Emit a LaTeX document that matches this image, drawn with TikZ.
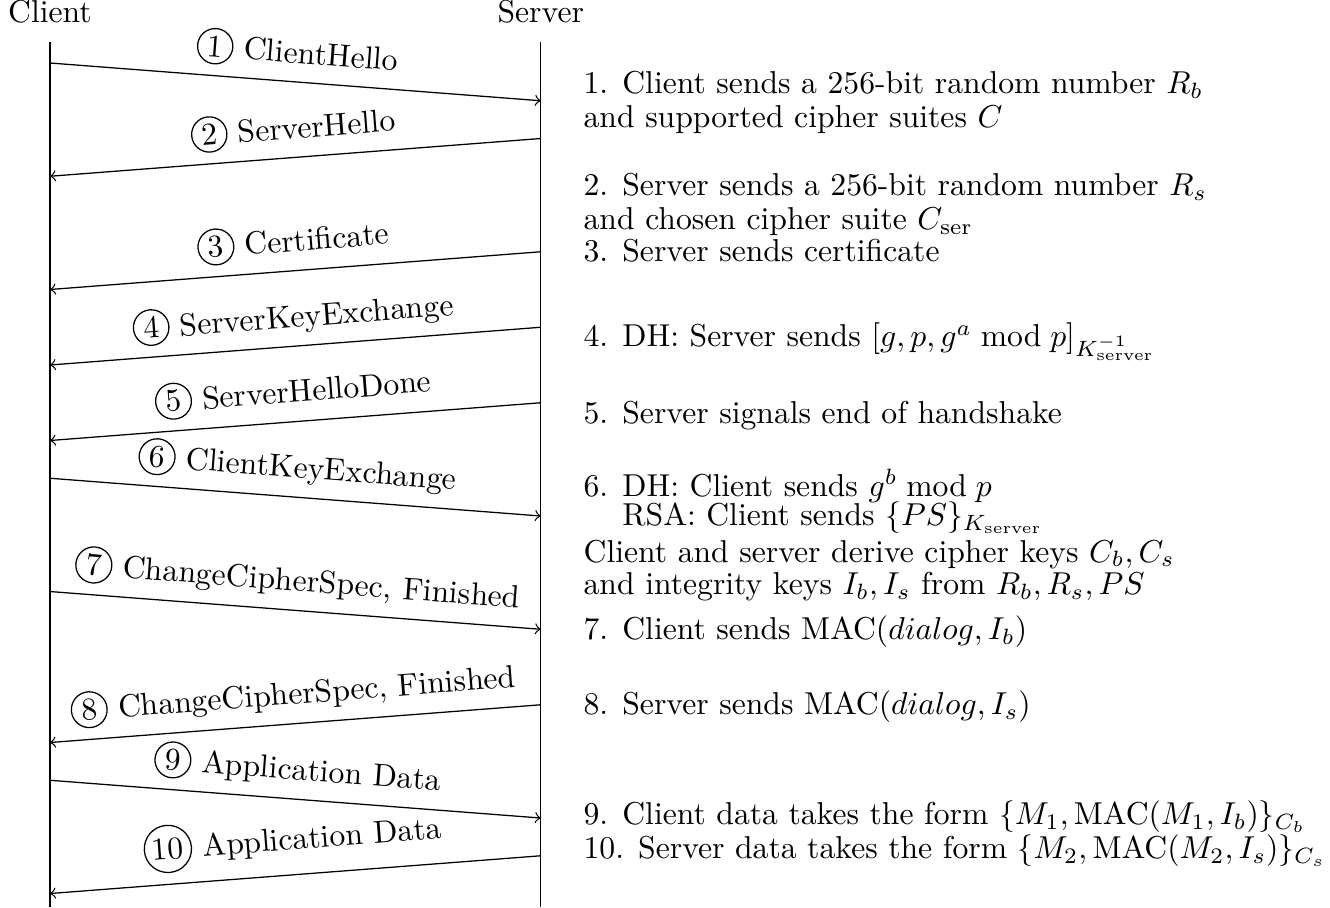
\documentclass[tikz,border=0pt]{standalone}
\usepackage{amsmath}
\usetikzlibrary{positioning}

\newcommand{\msgno}[1]{\tikz[baseline]\node[anchor=base,draw,circle,inner sep=1pt]{#1};}

\begin{document}
\begin{tikzpicture}[x=0.419cm, y=0.419cm,
        actor/.style={anchor=base, inner xsep=0pt, inner ysep=5.5pt},
        life/.style={thin},
        msg/.style={->, thin},
        lbl/.style={above, sloped, midway},
        note/.style={anchor=base west, inner sep=0pt},
    ]
        \useasboundingbox (-1.3245,1.669) rectangle (33.907,-22.358);

        % Lifelines
        \node[actor] (client) at (0,1.06) {Client};
        \node[actor] (server) at (13,1.06) {Server};
        \coordinate (cend) at (0,-22.358);
        \coordinate (send) at (13,-22.358);
        \draw[life] (client.south) -- (cend);
        \draw[life] (server.south) -- (send);
        \foreach \i in {0,...,22} {
            \coordinate (c\i) at (0,-\i);
            \coordinate (s\i) at (13,-\i);
        }

        % Handshake messages
        \draw[msg] (c0) -- node[lbl] {\msgno{1} ClientHello} (s1);
        \draw[msg] (s2) -- node[lbl] {\msgno{2} ServerHello} (c3);
        \draw[msg] (s5) -- node[lbl] {\msgno{3} Certificate} (c6);
        \draw[msg] (s7) -- node[lbl] {\msgno{4} ServerKeyExchange} (c8);
        \draw[msg] (s9) -- node[lbl] {\msgno{5} ServerHelloDone} (c10);
        \draw[msg] (c11) -- node[lbl] {\msgno{6} ClientKeyExchange} (s12);
        \draw[msg] (c14) -- node[lbl] {\msgno{7} ChangeCipherSpec, Finished} (s15);
        \draw[msg] (s17) -- node[lbl] {\msgno{8} ChangeCipherSpec, Finished} (c18);
        \draw[msg] (c19) -- node[lbl] {\msgno{9} Application Data} (s20);
        \draw[msg] (s21) -- node[lbl] {\msgno{10} Application Data} (c22);

        % Explanations
        \node[note] (n1) at (14.12,-0.82) {1. Client sends a 256-bit random number $R_b$};
        \node[note] (n1b) at (14.12,-1.72) {and supported cipher suites $C$};
        \node[note] (n2) at (14.12,-3.52) {2. Server sends a 256-bit random number $R_s$};
        \node[note] (n2b) at (14.12,-4.42) {and chosen cipher suite $C_{\text{ser}}$};
        \node[note] (n3) at (14.12,-5.27) {3. Server sends certificate};
        \node[note] (n4) at (14.12,-7.52) {4. DH: Server sends $[g, p, g^a \bmod p]_{K^{-1}_{\text{server}}}$};
        \node[note] (n5) at (14.12,-9.54) {5. Server signals end of handshake};
        \node[note] (n6) at (14.12,-11.48) {6. DH: Client sends $g^b \bmod p$};
        \node[note] (n6b) at (14.12,-12.26) {\phantom{6. }RSA: Client sends $\{PS\}_{K_{\text{server}}}$};
        \node[note] (keys) at (14.12,-13.22) {Client and server derive cipher keys $C_b, C_s$};
        \node[note] (keysb) at (14.12,-14.09) {and integrity keys $I_b, I_s$ from $R_b, R_s, PS$};
        \node[note] (n7) at (14.12,-15.28) {7. Client sends $\text{MAC}(dialog, I_b)$};
        \node[note] (n8) at (14.12,-17.27) {8. Server sends $\text{MAC}(dialog, I_s)$};
        \node[note] (n9) at (14.12,-20.17) {9. Client data takes the form $\{M_1, \text{MAC}(M_1, I_b)\}_{C_b}$};
        \node[note] (n10) at (14.12,-21.08) {10. Server data takes the form $\{M_2, \text{MAC}(M_2, I_s)\}_{C_s}$};
    \end{tikzpicture}
\end{document}
